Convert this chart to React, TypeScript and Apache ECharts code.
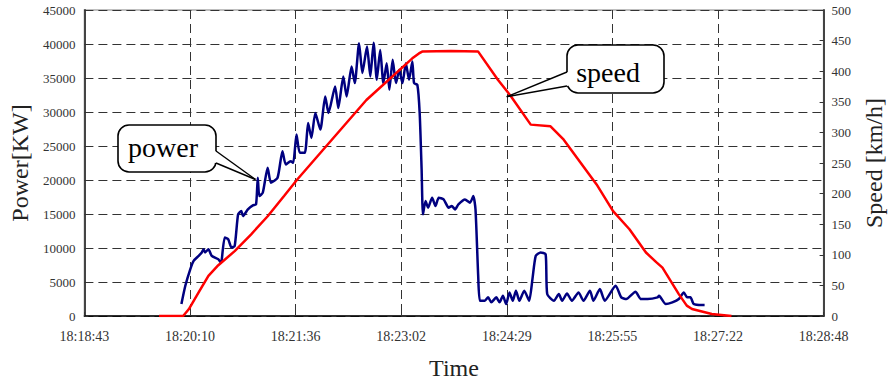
import React, { useEffect, useRef } from "react";
import * as echarts from "echarts";

// x values are seconds elapsed since 18:18:43
const xTickLabels = ["18:18:43", "18:20:10", "18:21:36", "18:23:02", "18:24:29", "18:25:55", "18:27:22", "18:28:48"];
const xSpanSeconds = 605;

const powerSeconds = [
  79.4, 82.6, 86.7, 89.4, 93.5, 96.1, 97.5, 98.8, 101.5, 104.2, 109.6, 111.7, 112.3, 114.9, 117.7, 120.4, 123.0,
  125.8, 128.4, 129.8, 133.8, 137.9, 140.5, 141.9, 143.2, 146.0, 150.0, 152.7, 158.1, 162.1, 164.8, 168.8,
  170.9, 173.6, 176.3, 180.4, 183.1, 185.8, 189.0, 193.1, 197.1, 199.8, 205.2, 207.8, 211.9, 214.6, 218.7,
  221.3, 224.8, 227.5, 231.3, 234.0, 236.7, 239.3, 242.1, 244.7, 247.4, 249.6, 252.3, 255.0, 257.7, 260.3,
  263.1, 265.7, 268.4, 269.8, 272.5, 274.4, 276.0, 277.1, 279.2, 281.3, 284.6, 287.3, 290.0, 294.0, 298.1,
  300.7, 303.4, 306.1, 311.5, 315.6, 318.3, 320.1, 322.3, 323.7, 327.7, 330.4, 333.0, 337.1, 339.8, 342.5,
  345.2, 347.9, 350.6, 353.2, 356.0, 360.0, 364.0, 366.7, 369.4, 373.4, 377.5, 378.8, 384.3, 388.3, 391.0,
  395.0, 399.0, 404.4, 408.5, 413.8, 416.6, 421.9, 425.9, 434.8, 439.4, 443.5, 451.0, 455.6, 461.0, 469.1,
  470.3, 475.8, 481.2, 486.5, 490.6, 493.3, 496.0, 498.7, 505.5, 507.6,
];
const powerKW = [
  1760, 4440, 6890, 8110, 8840, 9340, 9820, 9340, 9820, 8840, 8350, 7870, 8110, 11540, 11290, 10070, 10300,
  14950, 15440, 14700, 15680, 16270, 16420, 20330, 17630, 18130, 21800, 19600, 20330, 24230, 22280, 22770,
  22530, 26680, 23990, 23990, 28390, 26190, 29860, 27410, 32290, 29860, 33760, 30590, 35220, 32290, 36690,
  34250, 40120, 35720, 39620, 35220, 40200, 34740, 39130, 34250, 37180, 33270, 37670, 34250, 36200, 34250,
  37180, 34740, 37430, 34250, 34000, 29860, 21550, 14950, 16900, 15930, 17400, 16170, 17400, 17150, 15930,
  16170, 15680, 16420, 17150, 16660, 17630, 15680, 5900, 2240, 2240, 2740, 2010, 2740, 2010, 2980,
  1760, 3470, 2240, 3710, 2240, 3710, 2240, 5420, 8840, 9340, 9090, 3220, 2240, 3220, 2240,
  3320, 2240, 3470, 2240, 3710, 2240, 3960, 2240, 4440, 2740, 2490, 3570, 2490, 2490, 2740,
  2980, 1760, 2010, 2490, 3470, 2740, 2740, 1760, 1610, 1610,
];

const speedSeconds = [
  61.1, 80.8, 85.4, 93.5, 101.5, 109.6, 123.0, 136.5, 150.0, 163.4, 174.2, 230.8, 268.4, 273.8, 276.5,
  300.0, 322.3, 338.4, 349.2, 365.3, 381.5, 392.3, 419.2, 432.7, 446.1, 459.6, 468.0, 473.1, 486.5,
  493.0, 497.3, 513.5, 529.6,
];
const speedKmh = [
  0, 0, 11, 38.6, 65.6, 83, 106, 133.5, 163, 196, 223, 353, 421, 429, 432,
  433, 432, 386, 358.8, 312.7, 310, 288, 215, 171.5, 141.7, 103.7, 88, 79, 35.8,
  17, 11.4, 3.3, 0,
];

const powerData = powerSeconds.map((s, i) => [s, powerKW[i]]);
const speedData = speedSeconds.map((s, i) => [s, speedKmh[i]]);

const FONT = "'Liberation Serif', 'Times New Roman', serif";

export default function App() {
  const ref = useRef<HTMLDivElement>(null);

  useEffect(() => {
    if (!ref.current) return;
    const chart = echarts.init(ref.current, undefined, { renderer: "svg" });
    const xInterval = xSpanSeconds / 7;
    const dash = { type: [9, 5] as any, color: "#333", width: 1 };

    const callout = (
      box: { x: number; y: number; w: number; h: number },
      a1: number[],
      a2: number[],
      tip: number[],
      inner: number,
      label: string,
      tx: number,
      ty: number
    ) => [
      {
        type: "rect",
        shape: { x: box.x, y: box.y, width: box.w, height: box.h, r: 11 },
        style: { fill: "#fff", stroke: "#000", lineWidth: 1.6 },
        silent: true,
        z: 100,
      },
      {
        type: "polygon",
        shape: { points: [[a1[0] + inner, a1[1] + 0.8], a1, tip, a2, [a2[0] + inner, a2[1] - 0.8]] },
        style: { fill: "#fff", stroke: null },
        silent: true,
        z: 101,
      },
      {
        type: "line",
        shape: { x1: a1[0], y1: a1[1], x2: tip[0], y2: tip[1] },
        style: { stroke: "#000", lineWidth: 1.4 },
        silent: true,
        z: 102,
      },
      {
        type: "line",
        shape: { x1: a2[0], y1: a2[1], x2: tip[0], y2: tip[1] },
        style: { stroke: "#000", lineWidth: 1.4 },
        silent: true,
        z: 102,
      },
      {
        type: "text",
        x: tx,
        y: ty,
        style: { text: label, fontSize: 28, fontFamily: FONT, fill: "#000", align: "center", verticalAlign: "middle" },
        silent: true,
        z: 103,
      },
    ];

    chart.setOption({
      animation: false,
      backgroundColor: "#fff",
      grid: {
        left: 81,
        right: 64,
        top: 10,
        bottom: 68,
        show: true,
        borderColor: "#aaa",
        borderWidth: 1.5,
        backgroundColor: "transparent",
      },
      xAxis: {
        type: "value",
        min: 0,
        max: xSpanSeconds,
        interval: xInterval,
        name: "Time",
        nameLocation: "middle",
        nameGap: 40,
        nameTextStyle: { fontFamily: FONT, fontSize: 24, color: "#222" },
        axisLine: { show: true, lineStyle: { color: "#000", width: 1.5 } },
        axisTick: { show: true, inside: true, length: 4, lineStyle: { color: "#333" } },
        axisLabel: {
          fontFamily: FONT,
          fontSize: 14,
          color: "#333",
          margin: 13,
          formatter: (v: number) => xTickLabels[Math.round(v / xInterval)] ?? "",
        },
        splitLine: { show: true, lineStyle: dash },
      },
      yAxis: [
        {
          type: "value",
          min: 0,
          max: 45000,
          interval: 5000,
          name: "Power[KW]",
          nameLocation: "middle",
          nameGap: 48,
          nameTextStyle: { fontFamily: FONT, fontSize: 24, color: "#222" },
          axisLine: { show: true, lineStyle: { color: "#444", width: 2 } },
          axisTick: { show: true, inside: true, length: 4, lineStyle: { color: "#333" } },
          axisLabel: { fontFamily: FONT, fontSize: 13, color: "#333", margin: 9, formatter: (v: number) => String(v) },
          splitLine: { show: true, lineStyle: dash },
        },
        {
          type: "value",
          min: 0,
          max: 500,
          interval: 50,
          name: "Speed [km/h]",
          nameLocation: "middle",
          nameGap: 34,
          nameTextStyle: { fontFamily: FONT, fontSize: 24, color: "#222" },
          axisLine: { show: true, lineStyle: { color: "#444", width: 2 } },
          axisTick: { show: true, inside: true, length: 4, lineStyle: { color: "#333" } },
          axisLabel: { fontFamily: FONT, fontSize: 13, color: "#333", margin: 8, formatter: (v: number) => String(v) },
          splitLine: { show: false },
        },
      ],
      series: [
        {
          name: "power",
          type: "line",
          yAxisIndex: 0,
          data: powerData,
          showSymbol: false,
          symbol: "none",
          smooth: 0.2,
          lineStyle: { color: "#000080", width: 2.5 },
          z: 3,
        },
        {
          name: "speed",
          type: "line",
          yAxisIndex: 1,
          data: speedData,
          showSymbol: false,
          symbol: "none",
          lineStyle: { color: "#ff0000", width: 2.5 },
          z: 4,
        },
      ],
      graphic: [
        ...callout({ x: 118, y: 125, w: 98, h: 47 }, [216, 151], [216, 163], [255.5, 179.5], -3, "power", 163, 147.5),
        ...callout({ x: 567, y: 45, w: 97, h: 48 }, [567, 72], [567, 86], [506.7, 96.7], 3, "speed", 608, 72),
      ],
    });

    return () => chart.dispose();
  }, []);

  return <div ref={ref} style={{ position: "fixed", left: 0, top: 0, width: 894, height: 385 }} />;
}
